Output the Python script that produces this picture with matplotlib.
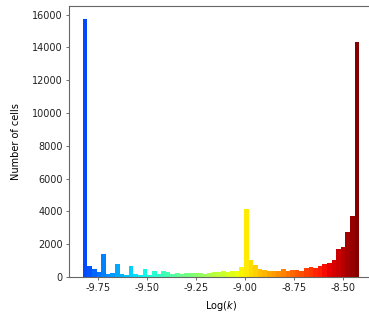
import matplotlib
matplotlib.use("Agg")
import matplotlib.pyplot as plt
import numpy as np

# histogram of log(k), 60 bins
log_k_min = -9.830
log_k_max = -8.416
counts = [15750, 700, 480, 300, 1400, 200, 250, 770, 220, 150,
          650, 160, 130, 480, 130, 350, 220, 350, 300, 170,
          280, 170, 280, 280, 280, 280, 220, 280, 290, 300,
          380, 300, 350, 350, 620, 4130, 1040, 730, 500, 440,
          370, 370, 370, 490, 370, 420, 430, 370, 530, 600,
          570, 670, 780, 850, 1040, 1740, 1850, 2770, 3700, 14300]
yticks = [0, 2000, 4000, 6000, 8000, 10000, 12000, 14000, 16000]
xticks = [-9.75, -9.50, -9.25, -9.00, -8.75, -8.50]

edges = np.linspace(log_k_min, log_k_max, len(counts) + 1)
centers = 0.5 * (edges[:-1] + edges[1:])
width = edges[1] - edges[0]

# colour along jet, a bit stretched so -9.0 lands on yellow
cmap = plt.get_cmap('jet')
cvals = np.interp(centers, [-9.83, -9.0, -8.5, -8.42], [0.19, 0.66, 0.95, 1.0])
colors = cmap(cvals)

fig = plt.figure(figsize=(3.69, 3.2), dpi=100)
ax = fig.add_axes([0.187, 0.134, 0.824, 0.848])

ax.bar(centers, counts, width=width, color=colors, linewidth=0, align='center')

ax.set_xticks(xticks)
ax.set_xticklabels(['%.2f' % t for t in xticks])
ax.set_yticks(yticks)
ax.tick_params(labelsize=7, length=2.5, width=0.6, color='#555555', labelcolor='#222222', pad=2)
for s in ax.spines.values():
    s.set_color('#666666')
    s.set_linewidth(0.8)

ax.set_xlabel('Log$(k)$', fontsize=7, labelpad=4)
ax.set_ylabel('Number of cells', fontsize=7, labelpad=8)

fig.savefig('out.png', dpi=100)
